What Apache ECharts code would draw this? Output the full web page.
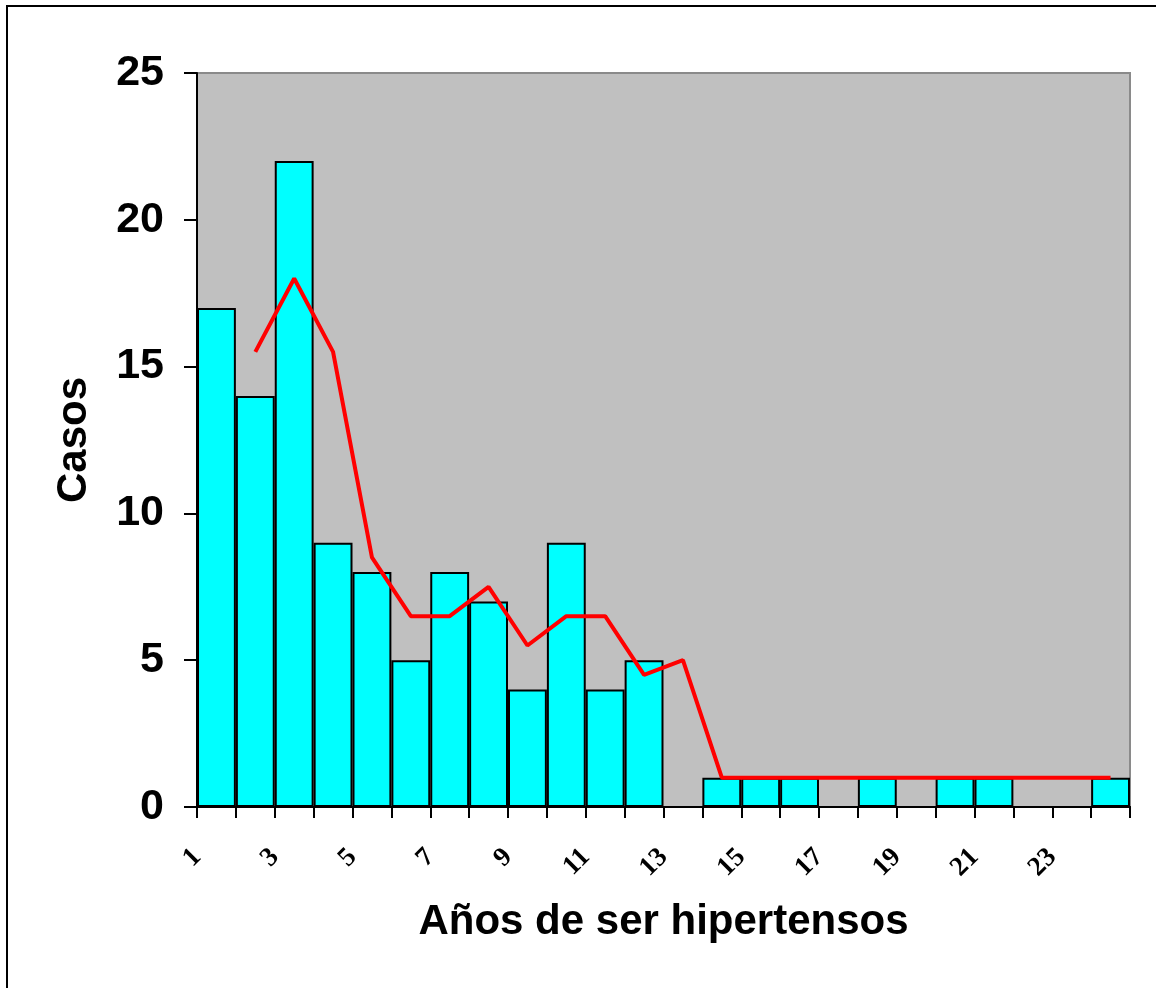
<!DOCTYPE html>
<html>
<head>
<meta charset="utf-8">
<title>Años de ser hipertensos</title>
<script src="https://cdn.jsdelivr.net/npm/echarts@6/dist/echarts.min.js"></script>
<style>
html, body { margin: 0; padding: 0; background: #fff; overflow: hidden; }
#canvas { position: absolute; left: 0; top: 0; width: 1156px; height: 988px; }
.frame {
    position: absolute; left: 6px; top: 5px; width: 1400px; height: 1200px;
    border-left: 2px solid #000; border-top: 2px solid #000;
    pointer-events: none;
}
</style>
</head>
<body>
<div id="canvas"></div>
<div class="frame"></div>
<script>
// años (categorías)
var categories = ['1','2','3','4','5','6','7','8','9','10','11','12',
                  '13','14','15','16','17','18','19','20','21','22','23','24'];
// casos por año (null = sin barra)
var casos = [17, 14, 22, 9, 8, 5, 8, 7, 4, 9, 4, 5,
             null, 1, 1, 1, null, 1, null, 1, 1, null, null, 1];
// media móvil de 2 periodos (línea roja)
var mediaMovil = [null, 15.5, 18, 15.5, 8.5, 6.5, 6.5, 7.5, 5.5, 6.5, 6.5, 4.5,
                  5, 1, 1, 1, 1, 1, 1, 1, 1, 1, 1, 1];
// marcas del eje y
var yTicks = [0, 5, 10, 15, 20, 25];

var font = '"Liberation Sans", Arial, sans-serif';
var serif = '"Liberation Serif", "Times New Roman", serif';

var chart = echarts.init(document.getElementById('canvas'));
var option = {
    animation: false,
    textStyle: { fontFamily: font },
    grid: {
        left: 197, top: 73, right: 26, bottom: 181,
        show: true,
        backgroundColor: '#C0C0C0',
        borderColor: '#8a8a8a',
        borderWidth: 2
    },
    xAxis: [{
        // eje de categorías para las barras y la línea
        type: 'category',
        data: categories,
        boundaryGap: true,
        position: 'bottom',
        axisLine: { lineStyle: { color: '#000', width: 2 } },
        axisTick: { show: false },
        axisLabel: { show: false },
        name: 'Años de ser hipertensos',
        nameLocation: 'middle',
        nameGap: 94,
        nameTextStyle: { fontSize: 42, fontWeight: 'bold', color: '#000', fontFamily: font }
    }, {
        // eje auxiliar: marcas en los bordes de cada categoría
        type: 'value',
        position: 'bottom',
        min: 0,
        max: categories.length,
        interval: 1,
        axisLine: { lineStyle: { color: '#000', width: 2 } },
        axisTick: { show: true, length: 11, lineStyle: { color: '#000', width: 2 } },
        splitLine: { show: false },
        axisLabel: {
            rotate: 45,
            margin: 46,
            fontSize: 27,
            fontWeight: 'bold',
            color: '#000',
            fontFamily: serif,
            showMaxLabel: true,
            formatter: function (v) {
                if (v % 2 === 0 && v < categories.length) return categories[v];
                return '';
            }
        }
    }],
    yAxis: {
        type: 'value',
        min: yTicks[0],
        max: yTicks[yTicks.length - 1],
        interval: 5,
        axisLine: { show: true, lineStyle: { color: '#000', width: 2 } },
        axisTick: { show: true, length: 13, lineStyle: { color: '#000', width: 2 } },
        splitLine: { show: false },
        axisLabel: { margin: 33, fontSize: 43, fontWeight: 'bold', color: '#000', fontFamily: font },
        name: 'Casos',
        nameLocation: 'middle',
        nameGap: 102,
        nameTextStyle: { fontSize: 42, fontWeight: 'bold', color: '#000', fontFamily: font }
    },
    series: [{
        type: 'bar',
        data: casos,
        xAxisIndex: 0,
        barCategoryGap: '0%',
        itemStyle: { color: '#00FFFF', borderColor: '#000', borderWidth: 2 }
    }, {
        type: 'line',
        data: mediaMovil,
        xAxisIndex: 0,
        symbol: 'none',
        smooth: false,
        connectNulls: false,
        lineStyle: { color: '#FF0000', width: 4 },
        z: 5
    }]
};
chart.setOption(option);
</script>
</body>
</html>
